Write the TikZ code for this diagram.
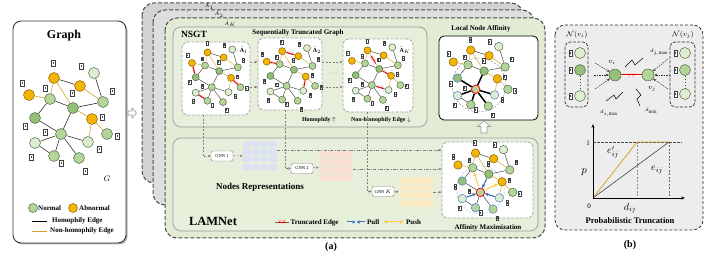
\documentclass[tikz,border=0pt]{standalone}
\usepackage{fontspec}
\setmainfont{Liberation Serif}
\usetikzlibrary{calc,arrows.meta}
\newcommand\fsz[1]{\fontsize{#1}{#1}\selectfont}
\definecolor{gO}{HTML}{F5B400}
\definecolor{gOd}{HTML}{7D5C00}
\definecolor{gM}{HTML}{B3D59A}
\definecolor{gD}{HTML}{93C078}
\definecolor{gL}{HTML}{DDEDD2}
\definecolor{gBd}{HTML}{4A5E3C}
\definecolor{eO}{HTML}{D6A228}
\definecolor{frontG}{HTML}{E2ECD5}
\definecolor{innerG}{HTML}{E6EFDA}
\definecolor{layA}{HTML}{D3D3D3}
\definecolor{layB}{HTML}{DEDEDE}
\definecolor{panB}{HTML}{EDEDED}
\definecolor{matA}{HTML}{DCE2F4}
\definecolor{matB}{HTML}{FADFD2}
\definecolor{matC}{HTML}{FDEBC6}
\definecolor{pullB}{HTML}{4472C4}
\definecolor{pushY}{HTML}{FFC845}
\def\nsz{11pt}\def\icw{3.6pt}\def\ich{6.4pt}\def\ew{0.6pt}
\tikzset{
 gn/.style={circle, inner sep=0pt, minimum size=\nsz, draw=gBd, line width=0.45pt},
 nO/.style={gn, fill=gO, draw=gOd},
 nM/.style={gn, fill=gM},
 nD/.style={gn, fill=gD},
 nL/.style={gn, fill=gL},
 he/.style={draw=black!80, line width=\ew},
 ne/.style={draw=eO, line width=\ew},
 ico/.style={draw=black!75, fill=white, inner sep=0pt, minimum width=\icw, minimum height=\ich, line width=0.3pt,
   path picture={\fill[black!70] ([xshift=-0.4pt,yshift=-0.22*\ich]path picture bounding box.center) rectangle ([xshift=0.4pt,yshift=0.22*\ich]path picture bounding box.center);}},
 truncln/.style={draw=red!85!black, line width=0.7pt},
 truncx/.style={sloped, text=red, font=\fsz{4}, inner sep=0pt},
 layer/.style={draw=black!70, line width=1pt, dash pattern=on 4pt off 2pt, rounded corners=12pt},
 inpanel/.style={draw=black!40, line width=0.7pt, fill=innerG, rounded corners=8pt},
 gbox/.style={draw=black!35, dash pattern=on 3pt off 1.5pt, line width=0.8pt, fill=white, rounded corners=6pt, inner sep=0pt},
 gnn/.style={draw=black!50, fill=white, rounded corners=1.5pt, font=\fsz{4.5}, minimum width=22pt, minimum height=10pt, inner sep=1pt},
 dconn/.style={draw=black!50, dash pattern=on 2pt off 1.5pt, line width=0.6pt, -{Stealth[length=3pt,width=2.5pt]}},
 ddot/.style={draw=black!50, dash pattern=on 3pt off 1.5pt on 0.6pt off 1.5pt, line width=0.6pt, -{Stealth[length=3pt,width=2.5pt]}},
 pullarr/.style={draw=pullB, line width=1pt, -{Triangle[length=3pt,width=3.2pt]}},
 pusharr/.style={draw=pushY, line width=1pt, -{Triangle[length=3pt,width=3.2pt]}},
 dasharr/.style={draw=black!80, dash pattern=on 1.5pt off 1pt, line width=0.5pt, -{Stealth[length=3pt,width=2.5pt]}},
 mat/.style={inner sep=0pt, minimum width=34.1pt, minimum height=29.3pt},
 txt/.style={inner sep=0pt},
}
\newcommand\trunc[2]{\draw[truncln] ($(#1)!0.3!(#2)$) -- node[truncx]{$\times\!\times$} ($(#1)!0.7!(#2)$);}
\newcommand\gnodes{%
\node[nO,nd-a1/.try] (a1) at (54,78) {};
\node[nO,nd-a2/.try] (a2) at (80,86) {};
\node[nL,nd-lt/.try] (lt) at (94,73) {};
\node[nO,nd-ol/.try] (ol) at (29,95) {};
\node[nM,nd-g1/.try] (g1) at (50,99) {};
\node[nM,nd-rt/.try] (rt) at (103,102) {};
\node[nD,nd-ce/.try] (ce) at (73,108) {};
\node[nD,nd-dl/.try] (dl) at (35,118) {};
\node[nO,nd-or/.try] (or) at (92,119) {};
\node[nM,nd-hb/.try] (hb) at (61,134) {};
\node[nM,nd-r2/.try] (r2) at (107,134) {};
\node[nL,nd-ll/.try] (ll) at (35,143) {};
\node[nL,nd-lm/.try] (lm) at (88,142) {};
\node[nM,nd-b1/.try] (b1) at (54,156) {};
\node[nM,nd-b2/.try] (b2) at (79,158) {};}
\newcommand\gedges{%
\foreach \u/\v in {a1/a2,lt/rt,g1/ce,g1/dl,ce/rt,ce/hb,hb/dl,hb/ll,hb/b1,hb/b2,hb/lm,ll/b1} \draw[he] (\u) -- (\v);
\foreach \u/\v in {a1/g1,a1/ce,a2/rt,ol/g1,ce/or,or/r2,or/lm} \draw[ne] (\u) -- (\v);}
\newcommand\gicons{%
\foreach \x/\y [count=\k] in {53/63,81/66,22/83,45/88,72/93,112/91,102/117,25/126,45/132,117/136,99/149,31/157,61/163,85/171}
  \node[ico] (ic\k) at (\x,\y) {};}
\begin{document}
\begin{tikzpicture}[x=1pt,y=-1pt,font=\fsz{7}]
\useasboundingbox (0,0) rectangle (706,256);

% ---------- Graph panel ----------
\fill[black!30, rounded corners=8pt] (14.5,22.5) rectangle (127.5,244.5);
\draw[draw=black!80, line width=0.9pt, fill=white, rounded corners=8pt] (13,21) rectangle (126,243);
\node[txt, font=\fsz{12}\bfseries] (gtitle) at (64,36) {Graph};
\begin{scope}[name prefix=g-]
 \gnodes \gedges \gicons
\end{scope}
\node[txt, font=\fsz{8}] (glab) at (107,179) {$G$};
\node[nM, minimum size=9pt] (lgn) at (33,208) {};
\node[txt, anchor=west, font=\fsz{7}\bfseries] (lgnt) at (38,208.5) {Normal};
\node[nO, minimum size=9pt] (lgo) at (73,208) {};
\node[txt, anchor=west, font=\fsz{7}\bfseries] (lgot) at (79,208.5) {Abnormal};
\coordinate (lh1) at (32,221); \coordinate (lh2) at (47,221);
\draw[black, line width=0.9pt] (lh1) -- (lh2);
\node[txt, anchor=west, font=\fsz{7}\bfseries] (lht) at (52,221) {Homophily Edge};
\coordinate (ln1) at (32,231); \coordinate (ln2) at (47,231);
\draw[eO, line width=0.9pt] (ln1) -- (ln2);
\node[txt, anchor=west, font=\fsz{7}\bfseries] (lnt) at (50,231) {Non-homophily Edge};
\draw[black!40, fill=white, line width=0.6pt] (128,111)--(132,111)--(132,108)--(136.5,113)--(132,118)--(132,115)--(128,115)--cycle;

% ---------- (a) layers ----------
\draw[layer, fill=layA] (142,3) rectangle (523,183);
\draw[layer, fill=layB] (153,10) rectangle (534,205);
\draw[layer, fill=frontG] (165,18) rectangle (545,238);
\node[txt, font=\fsz{5}] (la1) at (209,6) {$\hat{A}_1$};
\node[txt, font=\fsz{5}] (la2) at (219,14) {$\hat{A}_2$};
\node[txt, font=\fsz{5}] (lak) at (230,23.5) {$\hat{A}_K$};
\node[txt, font=\fsz{6}] (ldots) at (190,12) {$\ddots$};

% NSGT
\draw[inpanel] (173,27) rectangle (427,127);
\node[txt, font=\fsz{9.5}\bfseries] (nsgt) at (194,34) {NSGT};
\node[txt, font=\fsz{7}\bfseries] (stg) at (298,32.5) {Sequentially Truncated Graph};
\node[gbox, minimum width=68pt, minimum height=73pt] (box1) at (216,78.5) {};
\node[gbox, minimum width=64pt, minimum height=72pt] (box2) at (290,74) {};
\node[gbox, minimum width=70pt, minimum height=73pt] (box3) at (378,75.5) {};
\begin{scope}[shift={(174,4.1)}, scale=0.62, name prefix=b1-]
 \def\nsz{7pt}\def\icw{2.3pt}\def\ich{3.9pt}\def\ew{0.4pt}
 \gnodes \gedges \gicons
 \draw[he] (ol) -- (dl);
 \trunc{ol}{dl}\trunc{or}{r2}\trunc{ll}{b1}
\end{scope}
\begin{scope}[shift={(248.7,2.8)}, scale=0.62, name prefix=b2-]
 \def\nsz{7pt}\def\icw{2.3pt}\def\ich{3.9pt}\def\ew{0.4pt}
 \gnodes \gedges \gicons
 \trunc{a1}{a2}\trunc{ol}{g1}\trunc{or}{lm}
\end{scope}
\begin{scope}[shift={(334,2)}, scale=0.62, name prefix=b3-]
 \def\nsz{7pt}\def\icw{2.3pt}\def\ich{3.9pt}\def\ew{0.4pt}
 \gnodes \gedges \gicons
 \trunc{a1}{ce}\trunc{ce}{or}\trunc{hb}{lm}
\end{scope}
\node[txt, font=\fsz{6}] (bl1) at (244,50) {$\hat{\mathbf{A}}_1$};
\node[txt, font=\fsz{6}] (bl2) at (317,50) {$\hat{\mathbf{A}}_2$};
\node[txt, font=\fsz{6}] (bl3) at (405,50) {$\hat{\mathbf{A}}_K$};
\coordinate (r1) at (0,62); \coordinate (r2) at (0,87);
\draw[dconn] (box1.east |- r1) -- (box2.west |- r1);
\draw[dconn] (box1.east |- r2) -- (box2.west |- r2);
\draw[dconn] (box2.east |- r1) -- (box3.west |- r1);
\draw[dconn] (box2.east |- r2) -- (box3.west |- r2);
\node[txt, text=black!40, font=\fsz{8}] (mdots) at (333,74) {$\cdots$};
\node[txt, font=\fsz{6}\bfseries] (homo) at (319,120) {Homophily $\uparrow$};
\node[txt, font=\fsz{6}\bfseries] (nhomo) at (381,120) {Non-homophily Edge $\downarrow$};

% Local node affinity
\node[txt, font=\fsz{7}\bfseries] (lnat) at (481,29) {Local Node Affinity};
\node[draw=black, line width=0.8pt, fill=white, rounded corners=5pt, minimum width=99pt, minimum height=84pt] (lna) at (488.5,78) {};
\draw[black!45, dash pattern=on 2pt off 1.5pt, line width=0.5pt] (479,85) circle[radius=27pt];
\begin{scope}[shift={(433,-4.5)}, scale=0.7, name prefix=ln-,
   nd-hb/.style={draw=red, line width=0.8pt}, nd-ll/.style={draw=pullB}, nd-lm/.style={draw=pullB}, nd-dl/.style={draw=pullB}]
 \def\nsz{8.5pt}\def\icw{2.6pt}\def\ich{4.4pt}\def\ew{0.45pt}
 \gnodes \gedges \gicons
 \foreach \v in {ce,dl,ll,b1,b2,lm} \draw[black, line width=1.5pt] (hb) -- (\v);
\end{scope}

% LAMNet
\draw[inpanel] (173,138) rectangle (538,231);
\node[gnn] (gnn1) at (222,156) {GNN 1};
\node[gnn] (gnn2) at (302,168.5) {GNN 2};
\node[gnn] (gnnk) at (383,191.5) {GNN $K$};
\node[mat] (m1) at (260.05,155.65) {};
\node[mat] (m2) at (336.05,166.15) {};
\node[mat] (m3) at (416.05,192.15) {};
\foreach \i in {0,...,3}{\foreach \j in {0,...,3}{
  \fill[matA] ($(m1.north west)+(\i*8.8,\j*7.6)$) rectangle ++(7.7,6.5);
  \fill[matB] ($(m2.north west)+(\i*8.8,\j*7.6)$) rectangle ++(7.7,6.5);
  \fill[matC] ($(m3.north west)+(\i*8.8,\j*7.6)$) rectangle ++(7.7,6.5);}}
\node[txt, font=\fsz{9}\bfseries] (nrep) at (260,187) {Nodes Representations};
\node[txt, font=\fsz{12.5}\bfseries] (lamnet) at (213,221) {LAMNet};
\node[txt, text=black!40, font=\fsz{6}] (mdots2) at (364,178) {$\ddots$};
\node[gbox, minimum width=91pt, minimum height=76pt] (am) at (487.5,180) {};
\draw[pullB!40, dash pattern=on 2pt off 1.5pt, line width=0.5pt] (480.4,190) circle[radius=24pt];
\begin{scope}[shift={(437.7,98.5)}, scale=0.7, name prefix=am-,
   nd-hb/.style={draw=red, line width=0.8pt}, nd-ll/.style={draw=pullB}, nd-lm/.style={draw=pullB}, nd-dl/.style={draw=pullB}, nd-b1/.style={draw=pullB}, nd-b2/.style={draw=pullB}]
 \def\nsz{8.5pt}\def\icw{2.6pt}\def\ich{4.4pt}\def\ew{0.45pt}
 \gnodes \gedges \gicons
\end{scope}
\draw[pullarr] ($(am-ce)!0.25!(am-hb)$) -- ($(am-ce)!0.75!(am-hb)$);
\draw[pullarr] ($(am-ll)!0.25!(am-hb)$) -- ($(am-ll)!0.75!(am-hb)$);
\draw[pullarr] ($(am-lm)!0.25!(am-hb)$) -- ($(am-lm)!0.75!(am-hb)$);
\draw[pusharr] ($(am-hb)!0.25!(am-g1)$) -- ($(am-hb)!0.8!(am-g1)$);
\draw[pusharr] ($(am-hb)!0.25!(am-or)$) -- ($(am-hb)!0.8!(am-or)$);
\node[txt, font=\fsz{7}\bfseries] (amt) at (488,228) {Affinity Maximization};
\draw[black!40, fill=white, line width=0.6pt] (481,133)--(487,133)--(487,126.5)--(490.5,126.5)--(484,121)--(477.5,126.5)--(481,126.5)--cycle;

% connectors
\draw[dconn] ([xshift=-13pt]box1.south) |- (gnn1);
\draw[dconn] ([xshift=-5pt]box2.south) |- (gnn2);
\draw[dconn] ([xshift=-11pt]box3.south) |- (gnnk);
\draw[dconn] (gnn1) -- (m1);
\draw[dconn] (gnn2) -- (m2);
\draw[dconn] (gnnk) -- (m3);
\coordinate (l1) at (0,150); \coordinate (l2) at (0,169);
\draw[ddot] (m1.east |- l1) -- (am.west |- l1);
\draw[ddot] (m2.east |- l2) -- (am.west |- l2);
\draw[ddot] (m3.east) -- (am.west |- m3.east);

% legend
\coordinate (lt1) at (275,222); \coordinate (lt2) at (289,222);
\draw[black!60, line width=0.5pt] (lt1) -- (lt2);
\draw[truncln] ($(lt1)!0.25!(lt2)$) -- node[truncx, font=\fsz{6}]{$\times\!\times$} ($(lt1)!0.75!(lt2)$);
\node[txt, anchor=west, font=\fsz{7}\bfseries] (ltt) at (290.5,222.5) {Truncated Edge};
\coordinate (pa1) at (347,222); \coordinate (pa2) at (355.5,222);
\coordinate (pb1) at (365,222); \coordinate (pb2) at (356.5,222);
\draw[pullarr] (pa1) -- (pa2); \draw[pullarr] (pb1) -- (pb2);
\node[txt, anchor=west, font=\fsz{7}\bfseries] (pullt) at (367,222.5) {Pull};
\coordinate (qa1) at (393,222); \coordinate (qa2) at (384,222);
\coordinate (qb1) at (394,222); \coordinate (qb2) at (403,222);
\draw[pusharr] (qa1) -- (qa2); \draw[pusharr] (qb1) -- (qb2);
\node[txt, anchor=west, font=\fsz{7}\bfseries] (pusht) at (406,222.5) {Push};
\node[txt, font=\fsz{10}\bfseries] (alab) at (331,247) {(a)};

% ---------- (b) ----------
\draw[draw=black!80, line width=0.8pt, dash pattern=on 3pt off 2pt, fill=panB, rounded corners=10pt] (555,25) rectangle (703,230);
\draw[draw=black!80, line width=0.7pt, dash pattern=on 3pt off 1.5pt, rounded corners=5pt] (565,42) rectangle (588,107);
\draw[draw=black!80, line width=0.7pt, dash pattern=on 3pt off 1.5pt, rounded corners=5pt] (670,42) rectangle (695,107);
\node[txt, font=\fsz{7}] (nvi) at (577,35) {$\mathcal{N}(v_i)$};
\node[txt, font=\fsz{7}] (nvj) at (683,35) {$\mathcal{N}(v_j)$};
\node[nL] (p1) at (580,53) {};
\node[nD] (p2) at (580,70) {};
\node[nL] (p3) at (580,96) {};
\node[nL] (q1) at (685,53) {};
\node[nM] (q2) at (685,70) {};
\node[nL] (q3) at (685,94) {};
\foreach \x/\y [count=\k] in {570.5/53,570.5/70,570.5/96,675.5/53,675.5/70,675.5/94} \node[ico] (bic\k) at (\x,\y) {};
\draw[green!45!black, line width=1pt, dotted] (p2) -- (p3);
\draw[green!45!black, line width=1pt, dotted] (q2) -- (q3);
\node[nD, minimum size=12pt] (vi) at (615,75) {};
\node[nM, minimum size=12pt] (vj) at (648,75) {};
\node[txt, font=\fsz{7}] (vil) at (612,62) {$v_i$};
\node[txt, font=\fsz{7}] (vjl) at (652,89) {$v_j$};
\draw[red!85!black, double=white, double distance=0.9pt, line width=0.7pt] (vi) -- node[truncx, font=\fsz{5}]{$\times\!\times$} (vj);
\coordinate (ai1) at (595,63); \coordinate (ai2) at (594,75); \coordinate (ai3) at (595,89);
\coordinate (aj1) at (668,59); \coordinate (aj2) at (670,75); \coordinate (aj3) at (668,89);
\foreach \c in {ai1,ai2,ai3} \draw[dasharr] (\c) -- (vi);
\foreach \c in {aj1,aj2,aj3} \draw[dasharr] (\c) -- (vj);
\draw[black, line width=0.5pt] (625,67)--(632,60)--(635,65)--(643,58);
\draw[black, line width=0.5pt] (606,101)--(614,95)--(616,99)--(623,92);
\draw[black, line width=0.5pt] (636,89)--(641,95)--(637,99)--(640,106);
\node[txt, font=\fsz{5}] (djm) at (659,52) {$d_{j,\max}$};
\node[txt, font=\fsz{5}] (dim) at (609,113) {$d_{i,\max}$};
\node[txt, font=\fsz{5}] (dmin) at (651,111) {$d_{\min}$};
% plot
\coordinate (O) at (593,198); \coordinate (ytop) at (593,124); \coordinate (xend) at (685,198);
\coordinate (k1) at (637,142); \coordinate (k2) at (669,142); \coordinate (hl) at (682,142);
\coordinate (k1b) at (637,198); \coordinate (k2b) at (669,198); \coordinate (hs) at (593,142);
\draw[black!70, line width=0.5pt, dash pattern=on 2.5pt off 1.5pt] (hs) -- (hl);
\draw[black!45, line width=1pt, dash pattern=on 2pt off 1.5pt] (k1) -- (k1b);
\draw[black!60, line width=0.5pt, dash pattern=on 2pt off 1.5pt] (k2) -- (k2b);
\draw[black!75, line width=0.6pt] (O) -- (k2);
\draw[eO, line width=0.8pt] (O) -- (k1) -- (k2);
\draw[black, line width=0.7pt, -{Stealth[length=4pt,width=3pt]}] (O) -- (ytop);
\draw[black, line width=0.7pt, -{Stealth[length=4pt,width=3pt]}] (O) -- (xend);
\node[txt, font=\fsz{7}] (one) at (588,143) {1};
\node[txt, font=\fsz{7}] (zero) at (589,206) {0};
\node[txt, font=\fsz{11}] (pl) at (584,172) {$p$};
\node[txt, font=\fsz{10}] (epl) at (613,152) {$e'_{ij}$};
\node[txt, font=\fsz{10}] (el) at (657,170) {$e_{ij}$};
\node[txt, font=\fsz{10}] (dl) at (630,208) {$d_{ij}$};
\node[txt, font=\fsz{8.5}\bfseries] (ptl) at (630,221) {Probabilistic Truncation};
\node[txt, font=\fsz{10}\bfseries] (blab) at (630,245) {(b)};
\end{tikzpicture}
\end{document}
